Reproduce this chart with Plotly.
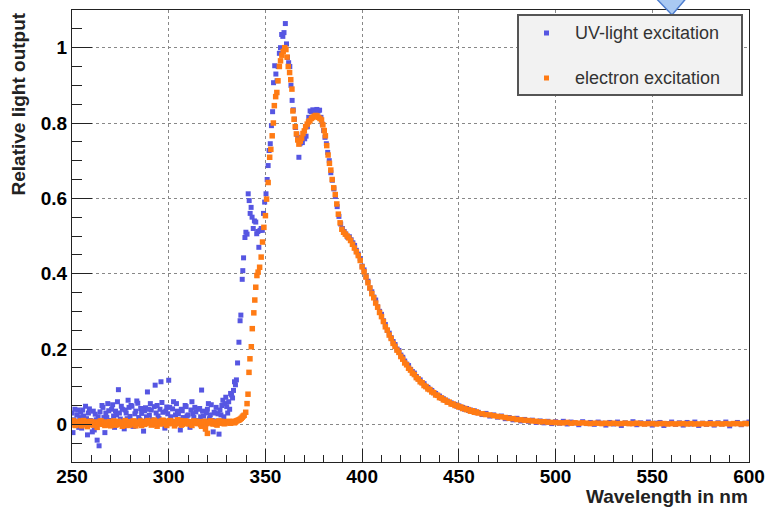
import plotly.graph_objects as go

# ---------------- data ----------------
# electron excitation (orange) — baseline sampled every 0.5 nm from 250 nm
base_e = [0.004, 0.010, 0.008, -0.002, -0.003, 0.006, 0.006, 0.001, 0.002, 0.009,
          -0.004, 0.003, 0.010, -0.001, 0.001, 0.007, -0.006, 0.002, 0.003, 0.008,
          0.007, 0.000, -0.002, 0.006, 0.004, -0.003, -0.008, 0.005, 0.002, 0.008,
          0.009, 0.001, 0.000, 0.006, -0.003, 0.004, 0.005, -0.002, 0.001, 0.007,
          -0.004, 0.003, 0.006, 0.009, 0.003, -0.002, -0.001, 0.005, 0.008, 0.001,
          0.002, 0.006, -0.005, 0.003, 0.004, 0.010, 0.000, -0.003, 0.007, 0.004,
          -0.002, 0.005, 0.003, 0.008, 0.009, 0.001, -0.004, 0.006, 0.001, 0.003,
          0.005, 0.009, -0.003, 0.002, 0.006, 0.000, 0.002, 0.007, 0.010, 0.004,
          0.004, 0.008, -0.002, 0.003, 0.007, 0.011, 0.003, -0.001, -0.005, 0.005,
          0.008, 0.002, 0.001, 0.009, 0.011, 0.004, 0.004, 0.008, -0.003, 0.002,
          0.006, 0.010, 0.009, 0.003, 0.002, 0.007, -0.004, 0.001, 0.007, 0.012,
          0.003, 0.006, 0.010, -0.002, 0.000, 0.006, 0.005, 0.009, 0.008, 0.003,
          0.001, 0.007, 0.006, 0.002, -0.003, 0.005, 0.009, 0.004, 0.004, 0.008,
          0.002, 0.006, 0.007, -0.001, -0.005, 0.004, 0.003, 0.008, -0.012, 0.002,
          -0.024, 0.004, 0.005, 0.009, 0.008, 0.002, 0.001, 0.006, 0.006, 0.000,
          -0.002, 0.005, 0.009, 0.003, 0.004, 0.008, 0.007, 0.002, 0.002, 0.006,
          0.005, 0.007, 0.008, 0.004, 0.003, 0.006, 0.006, 0.008, 0.004, 0.006,
          0.009, 0.010, 0.011, 0.012, 0.014, 0.016, 0.019, 0.022]
base_e_wl = [250 + 0.5 * i for i in range(len(base_e))]
peak_e_wl = [339.0, 339.8, 340.5, 341.0, 341.5, 342.0, 342.7, 343.2, 344.0, 344.5,
             345.0, 345.6, 346.2, 347.0, 347.8, 348.5, 349.2, 350.0, 350.6, 351.4,
             352.2, 352.8, 353.5, 354.1, 354.6, 355.3, 355.9, 356.5, 357.2, 357.8,
             358.5, 359.2, 360.0, 360.6, 361.2, 361.8, 362.5, 363.1, 363.7, 364.2,
             364.8, 365.4, 366.0, 366.7, 367.3, 368.0, 368.7, 369.4, 370.1, 370.8,
             371.6, 372.3, 373.0, 373.8, 374.5, 375.2, 376.0, 376.7, 377.4, 378.2,
             379.0, 379.7, 380.4, 381.0, 381.7, 382.4, 383.1, 383.8, 384.5, 385.3,
             386.1, 386.9, 387.7, 388.6, 389.5, 390.4, 391.3, 392.2, 393.1, 394.0,
             395.0, 396.0, 397.0, 398.0, 399.0, 400.0]
peak_e = [0.024, 0.032, 0.055, 0.080, 0.138, 0.174, 0.206, 0.254, 0.296, 0.330,
          0.364, 0.395, 0.404, 0.417, 0.444, 0.484, 0.523, 0.554, 0.598, 0.642,
          0.709, 0.730, 0.766, 0.800, 0.846, 0.870, 0.881, 0.912, 0.950, 0.965,
          0.980, 0.990, 1.000, 0.995, 0.975, 0.950, 0.934, 0.915, 0.890, 0.832,
          0.810, 0.790, 0.771, 0.755, 0.744, 0.752, 0.760, 0.772, 0.779, 0.790,
          0.797, 0.803, 0.806, 0.812, 0.815, 0.818, 0.820, 0.819, 0.815, 0.812,
          0.808, 0.795, 0.780, 0.766, 0.740, 0.715, 0.693, 0.675, 0.650, 0.628,
          0.610, 0.585, 0.558, 0.535, 0.518, 0.510, 0.505, 0.500, 0.495, 0.488,
          0.478, 0.468, 0.458, 0.448, 0.435, 0.418]
tail1_wl = list(range(401, 461))
tail1_e = [0.405, 0.391, 0.376, 0.362, 0.347, 0.336, 0.322, 0.311, 0.297, 0.286,
           0.273, 0.259, 0.250, 0.237, 0.228, 0.215, 0.207, 0.197, 0.191, 0.180,
           0.173, 0.163, 0.158, 0.149, 0.144, 0.136, 0.132, 0.124, 0.120, 0.113,
           0.110, 0.103, 0.100, 0.094, 0.092, 0.086, 0.084, 0.078, 0.077, 0.071,
           0.070, 0.065, 0.064, 0.059, 0.059, 0.054, 0.054, 0.050, 0.050, 0.046,
           0.046, 0.042, 0.042, 0.039, 0.039, 0.035, 0.036, 0.032, 0.033, 0.030]
tail2_wl = list(range(462, 601, 2))
tail2_e = [0.028, 0.026, 0.025, 0.023, 0.021, 0.020, 0.018, 0.016, 0.015, 0.013,
           0.012, 0.011, 0.010, 0.009, 0.008, 0.007, 0.007, 0.006, 0.005, 0.005,
           0.004, 0.004, 0.005, 0.003, 0.004, 0.003, 0.004, 0.003, 0.002, 0.003,
           0.003, 0.002, 0.003, 0.002, 0.003, 0.002, 0.002, 0.003, 0.002, 0.002,
           0.003, 0.002, 0.001, 0.002, 0.002, 0.001, 0.002, 0.002, 0.001, 0.002,
           0.001, 0.002, 0.002, 0.001, 0.002, 0.001, 0.001, 0.002, 0.001, 0.002,
           0.001, 0.002, 0.001, 0.002, 0.001, 0.002, 0.002, 0.001, 0.002, 0.002]

# UV-light excitation (blue) — baseline sampled every 0.5 nm from 250 nm
base_u = [0.030, -0.022, 0.012, 0.040, 0.005, 0.025, 0.038, -0.008, 0.018, 0.032,
          -0.010, 0.038, 0.022, 0.006, 0.048, 0.015, -0.028, 0.030, 0.041, 0.010,
          0.008, -0.020, 0.035, -0.015, 0.027, 0.012, -0.042, 0.020, -0.057, 0.033,
          0.004, 0.050, 0.045, 0.018, -0.022, 0.030, 0.018, 0.055, 0.036, 0.008,
          0.010, 0.040, 0.052, 0.022, -0.008, 0.035, 0.025, 0.060, 0.092, 0.030,
          0.014, 0.048, 0.040, 0.008, -0.012, 0.038, 0.030, 0.015, 0.064, 0.045,
          0.021, 0.050, 0.048, -0.005, -0.005, 0.028, 0.035, 0.062, 0.056, 0.018,
          0.012, 0.042, 0.029, 0.008, -0.018, 0.036, 0.044, 0.020, 0.086, 0.040,
          0.024, 0.055, 0.038, 0.012, 0.009, 0.047, 0.104, 0.030, 0.050, 0.022,
          0.015, 0.040, 0.113, 0.058, 0.032, 0.010, -0.010, 0.035, 0.046, 0.028,
          0.117, 0.045, 0.020, 0.008, 0.041, 0.060, 0.003, 0.025, 0.055, 0.035,
          0.028, 0.012, -0.015, 0.040, 0.036, 0.018, 0.012, 0.050, 0.047, 0.022,
          0.025, 0.005, -0.008, 0.038, 0.060, 0.028, 0.018, 0.045, 0.033, 0.010,
          0.006, 0.040, 0.042, 0.020, 0.091, 0.035, 0.022, 0.008, -0.012, 0.030,
          0.040, 0.055, 0.015, 0.025, 0.052, 0.010, -0.020, 0.032, 0.030, 0.045,
          0.009, 0.028, -0.026, 0.038, 0.025, 0.050, 0.064, 0.020, 0.055, 0.072,
          0.047, 0.030, 0.060, 0.040, 0.082, 0.078, 0.070, 0.090, 0.113, 0.105]
base_u_wl = [250 + 0.5 * i for i in range(len(base_u))]
peak_u_wl = [335.0, 335.6, 336.3, 336.9, 337.3, 338.0, 338.3, 338.7, 339.4, 339.9,
             340.5, 341.1, 341.6, 342.1, 342.6, 343.1, 343.7, 344.3, 345.0, 345.5,
             346.1, 346.6, 347.2, 347.8, 348.4, 349.0, 349.6, 350.3, 350.9, 351.4,
             351.9, 352.5, 353.1, 353.7, 354.2, 354.8, 355.4, 356.0, 356.6, 357.2,
             357.8, 358.4, 359.0, 359.6, 360.3, 360.9, 361.4, 362.0, 362.6, 363.2,
             363.8, 364.4, 365.0, 365.6, 366.2, 366.8, 367.3, 367.9, 368.5, 369.1,
             369.7, 370.3, 371.0, 371.7, 372.4, 373.1, 373.8, 374.5, 375.2, 375.9,
             376.6, 377.3, 378.0, 378.7, 379.4, 380.1, 380.8, 381.5, 382.2, 383.0,
             383.8, 384.6, 385.4, 386.2, 387.1, 388.0, 388.9, 389.8, 390.7, 391.6,
             392.5, 393.4, 394.3, 395.2, 396.1, 397.0, 398.0, 399.0, 400.0]
peak_u = [0.118, 0.163, 0.218, 0.275, 0.290, 0.385, 0.408, 0.442, 0.496, 0.510,
          0.505, 0.612, 0.594, 0.560, 0.576, 0.550, 0.520, 0.540, 0.537, 0.506,
          0.512, 0.470, 0.515, 0.520, 0.515, 0.560, 0.590, 0.612, 0.650, 0.687,
          0.727, 0.745, 0.793, 0.830, 0.907, 0.952, 0.930, 0.912, 0.950, 0.985,
          1.000, 1.035, 1.030, 1.040, 1.064, 1.010, 0.974, 0.960, 0.950, 0.900,
          0.860, 0.835, 0.810, 0.788, 0.770, 0.762, 0.709, 0.745, 0.753, 0.748,
          0.760, 0.758, 0.765, 0.790, 0.815, 0.832, 0.830, 0.835, 0.832, 0.828,
          0.836, 0.832, 0.834, 0.815, 0.797, 0.780, 0.762, 0.745, 0.722, 0.700,
          0.668, 0.648, 0.625, 0.605, 0.578, 0.552, 0.532, 0.520, 0.512, 0.505,
          0.497, 0.498, 0.490, 0.482, 0.475, 0.462, 0.452, 0.440, 0.420]
tail1_u = [0.410, 0.392, 0.380, 0.362, 0.352, 0.338, 0.330, 0.312, 0.300, 0.292,
           0.275, 0.265, 0.250, 0.242, 0.230, 0.220, 0.212, 0.200, 0.196, 0.184,
           0.178, 0.168, 0.160, 0.156, 0.146, 0.140, 0.136, 0.127, 0.121, 0.118,
           0.111, 0.108, 0.101, 0.098, 0.093, 0.090, 0.084, 0.082, 0.077, 0.075,
           0.070, 0.068, 0.064, 0.062, 0.058, 0.057, 0.053, 0.053, 0.048, 0.049,
           0.044, 0.045, 0.040, 0.042, 0.037, 0.038, 0.034, 0.036, 0.031, 0.032]
tail2_u = [0.026, 0.029, 0.022, 0.025, 0.019, 0.022, 0.015, 0.018, 0.012, 0.016,
           0.009, 0.013, 0.008, 0.011, 0.005, 0.009, 0.004, 0.008, 0.002, 0.007,
           0.003, 0.008, 0.001, 0.006, 0.004, -0.001, 0.007, 0.002, 0.005, 0.000,
           0.006, 0.003, -0.002, 0.005, 0.001, 0.006, -0.003, 0.004, 0.002, 0.007,
           -0.001, 0.004, 0.001, 0.006, -0.002, 0.003, 0.005, -0.003, 0.002, 0.006,
           0.000, 0.004, -0.002, 0.005, 0.001, 0.006, -0.003, 0.003, 0.000, 0.005,
           -0.002, 0.004, 0.001, 0.006, -0.004, 0.002, 0.005, -0.001, 0.003, 0.006]

wl_e = base_e_wl + peak_e_wl + tail1_wl + tail2_wl
val_e = base_e + peak_e + tail1_e + tail2_e
wl_u = base_u_wl + peak_u_wl + tail1_wl + tail2_wl
val_u = base_u + peak_u + tail1_u + tail2_u

series_names = ["UV-light excitation", "electron excitation"]
blue = "#5656e2"
orange = "#ff7b14"

FONT = "Liberation Sans"

fig = go.Figure()
fig.add_trace(go.Scatter(x=wl_u, y=val_u, mode="markers", name=series_names[0],
                         marker=dict(symbol="square", size=5, color=blue, line=dict(width=0)),
                         showlegend=False, hoverinfo="skip"))
fig.add_trace(go.Scatter(x=wl_e, y=val_e, mode="markers", name=series_names[1],
                         marker=dict(symbol="square", size=5.5, color=orange, line=dict(width=0)),
                         showlegend=False, hoverinfo="skip"))

axis_common = dict(showline=True, linecolor="#222", linewidth=1, mirror=True,
                   ticks="inside", tickcolor="#222", showgrid=True, automargin=False,
                   gridcolor="#888", griddash="dot", gridwidth=1, zeroline=False,
                   tickfont=dict(family=FONT, size=19, color="black", weight="bold"))

fig.update_xaxes(range=[250, 600], dtick=50, tick0=250, ticklen=13, ticklabelstandoff=-3,
                 minor=dict(dtick=10, ticklen=7, ticks="inside", tickcolor="#222", showgrid=False),
                 **axis_common)
fig.update_yaxes(range=[-0.1, 1.1], tickvals=[0, 0.2, 0.4, 0.6, 0.8, 1.0],
                 ticktext=["0", "0.2", "0.4", "0.6", "0.8", "1"], ticklen=20,
                 minor=dict(dtick=0.05, tick0=0, ticklen=10, ticks="inside", tickcolor="#222", showgrid=False),
                 **axis_common)

W, H = 768, 510
L, R, T, B = 72, 19, 10, 48
pw, ph = W - L - R, H - T - B


def px(xp):
    return (xp - L) / pw


def py(yp):
    return (H - B - yp) / ph


shapes = []
# callout arrow at top (partially visible)
shapes.append(dict(type="path", xref="paper", yref="paper",
                   path=f"M {px(653)} {py(-5)} L {px(689)} {py(-5)} L {px(672)} {py(15)} Z",
                   fillcolor="#a9c9f2", line=dict(color="#4f7fd0", width=1.5), layer="above"))
# legend box
shapes.append(dict(type="rect", xref="paper", yref="paper",
                   x0=px(518), x1=px(742), y0=py(95), y1=py(15),
                   fillcolor="#f2f2f2", line=dict(color="#555", width=2), layer="above"))
for yy, col in [(33, blue), (78, orange)]:
    shapes.append(dict(type="rect", xref="paper", yref="paper",
                       x0=px(544), x1=px(549), y0=py(yy + 2.5), y1=py(yy - 2.5),
                       fillcolor=col, line=dict(width=0), layer="above"))

annotations = []
for yy, name in [(33, series_names[0]), (78, series_names[1])]:
    annotations.append(dict(x=px(573), y=py(yy), xref="paper", yref="paper", text=name,
                            xanchor="left", yanchor="middle", showarrow=False,
                            font=dict(family=FONT, size=18, color="#333")))
annotations.append(dict(x=px(18), y=py(11), xref="paper", yref="paper",
                        text="<b>Relative light output</b>", textangle=-90,
                        xanchor="center", yanchor="top", showarrow=False,
                        font=dict(family=FONT, size=19, color="#222")))
annotations.append(dict(x=px(750), y=py(496), xref="paper", yref="paper",
                        text="<b>Wavelength in nm</b>",
                        xanchor="right", yanchor="middle", showarrow=False,
                        font=dict(family=FONT, size=19, color="#222")))

fig.update_layout(width=W, height=H, margin=dict(l=L, r=R, t=T, b=B, autoexpand=False),
                  paper_bgcolor="white", plot_bgcolor="white",
                  shapes=shapes, annotations=annotations, showlegend=False)

fig.write_html("out.html", config={"displayModeBar": False},
               post_script="document.body.style.margin='0';document.body.style.overflow='hidden';")
